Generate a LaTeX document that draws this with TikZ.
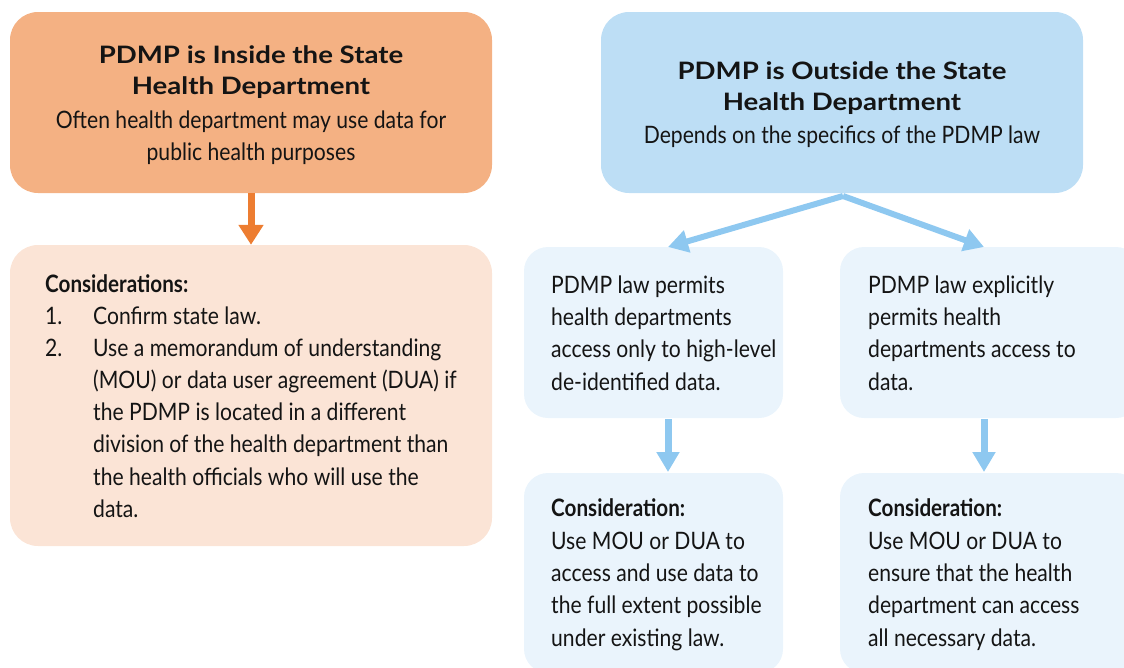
\documentclass[tikz,border=0pt]{standalone}
\usepackage{fontspec}
\setmainfont{Lato}
\newfontfamily\cond[FakeStretch=0.88]{Lato}
\newfontfamily\condb[FakeStretch=0.86]{Lato Bold}
\newfontfamily\titlefont[FakeStretch=1.15]{Lato Bold}
\usetikzlibrary{arrows.meta}
\definecolor{orTop}{HTML}{F4B183}
\definecolor{orLow}{HTML}{FBE4D6}
\definecolor{orArr}{HTML}{ED7D31}
\definecolor{blTop}{HTML}{BDDEF5}
\definecolor{blLow}{HTML}{EAF4FC}
\definecolor{blArr}{HTML}{8EC8F0}
\definecolor{ink}{HTML}{141414}
\tikzset{
  x=1pt,y=-1pt,
  box/.style={rounded corners=28pt, inner sep=0pt, draw=none},
  title/.style={font=\titlefont\fontsize{24}{31}\selectfont, align=center, text=ink, inner sep=0pt},
  sub/.style={font=\cond\fontsize{24}{32}\selectfont, align=center, text=ink, inner sep=0pt},
  body/.style={font=\cond\fontsize{24}{32.3}\selectfont, align=left, text=ink, inner sep=0pt, anchor=base west},
  orarrow/.style={orArr, line width=7pt, -{Triangle[width=24pt,length=20pt]}},
  blarrow/.style={blArr, line width=6pt, -{Triangle[width=22pt,length=20pt]}},
}
\begin{document}
\begin{tikzpicture}
\useasboundingbox (0,0) rectangle (1124,667);
\begin{scope}
\clip (0,0) rectangle (1124,667);
% boxes
\node[box, fill=orTop, minimum width=482pt, minimum height=181pt] (A) at (251,102.5) {};
\node[box, fill=orLow, minimum width=482pt, minimum height=301pt] (B) at (251,395.5) {};
\node[box, fill=blTop, minimum width=482pt, minimum height=181pt] (C) at (842,102.5) {};
\node[box, fill=blLow, rounded corners=24pt, minimum width=259pt, minimum height=171pt] (D) at (653.5,332.5) {};
\node[box, fill=blLow, rounded corners=24pt, minimum width=300pt, minimum height=171pt] (E) at (990,332.5) {};
\node[box, fill=blLow, rounded corners=24pt, minimum width=259pt, minimum height=200pt] (F) at (653.5,573) {};
\node[box, fill=blLow, rounded corners=24pt, minimum width=300pt, minimum height=200pt] (G) at (990,573) {};
\end{scope}
% texts (multi-line nodes are anchored at the baseline of their last line)
\node[title, anchor=base] (At) at (251,94) {PDMP is Inside the State\\Health Department};
\node[sub, anchor=base] (As) at (251,160) {Often health department may use data for\\public health purposes};
\node[title, anchor=base] (Ct) at (842,110) {PDMP is Outside the State\\Health Department};
\node[sub, anchor=base] (Cs) at (842,143) {Depends on the specifics of the PDMP law};
\node[body] (Bt) at (45,292) {{\condb Considerations:}};
\node[body] (B1) at (45,324) {1.};
\node[body] (B1t) at (93,324) {Confirm state law.};
\node[body] (B2) at (45,356) {2.};
\node[body] (B2t) at (93,517.5) {Use a memorandum of understanding\\(MOU) or data user agreement (DUA) if\\the PDMP is located in a different\\division of the health department than\\the health officials who will use the\\data.};
\node[body] (Dt) at (551,390) {PDMP law permits\\health departments\\access only to high-level\\de-identified data.};
\node[body] (Et) at (868,390) {PDMP law explicitly\\permits health\\departments access to\\data.};
\node[body] (Ft) at (551,646) {{\condb Consideration:}\\Use MOU or DUA to\\access and use data to\\the full extent possible\\under existing law.};
\node[body] (Gt) at (868,646) {{\condb Consideration:}\\Use MOU or DUA to\\ensure that the health\\department can access\\all necessary data.};
% connectors
\coordinate (ctip) at (843,196);
\coordinate (dtip) at (668,247);
\coordinate (etip) at (984,247);
\coordinate (dbot) at (668,419);
\coordinate (ftip) at (668,472);
\coordinate (ebot) at (984,419);
\coordinate (gtip) at (984,472);
\draw[orarrow] (A.south) -- (B.north);
\draw[blarrow] (ctip) -- (dtip);
\draw[blarrow] (ctip) -- (etip);
\draw[blarrow, line width=7pt] (dbot) -- (ftip);
\draw[blarrow, line width=7pt] (ebot) -- (gtip);
\end{tikzpicture}
\end{document}
